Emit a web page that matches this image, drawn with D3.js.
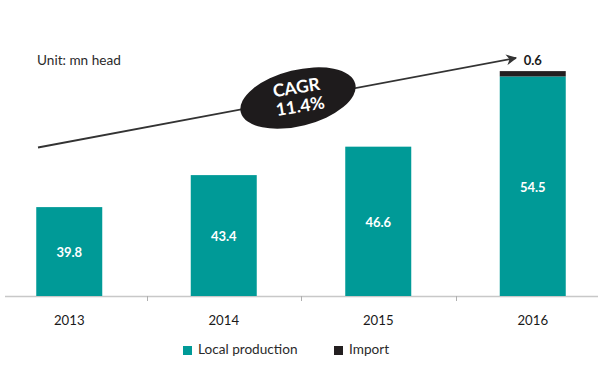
<!DOCTYPE html>
<html>
<head>
<meta charset="utf-8">
<script src="https://cdn.jsdelivr.net/npm/d3@7"></script>
<style>
  body { margin: 0; background: #fff; }
  svg { display: block; }
  text { font-family: Lato, "Open Sans", sans-serif; }
</style>
</head>
<body>
<svg id="chart" width="600" height="365"></svg>
<script>
const years = ["2013", "2014", "2015", "2016"];
const localProduction = [39.8, 43.4, 46.6, 54.5];
const importValues = [0, 0, 0, 0.6];
const seriesNames = ["Local production", "Import"];
const seriesColors = ["#009A97", "#231F20"];
const unitLabel = "Unit: mn head";
const cagrLabel = ["CAGR", "11.4%"];

const svg = d3.select("#chart");
const baseY = 296;

const x = d3.scaleBand().domain(years).range([-8, 610]).padding(0);
const y = d3.scaleLinear().domain([29.8, 63.1]).range([baseY, 0]);
const barW = 66;

// axis line
svg.append("line")
  .attr("x1", 5).attr("x2", 598)
  .attr("y1", baseY + 0.5).attr("y2", baseY + 0.5)
  .attr("stroke", "#c8c8c8").attr("stroke-width", 1.5);

// ticks between categories
years.slice(1).forEach(yr => {
  const tx = Math.round(x(yr)) + 0.5;
  svg.append("line")
    .attr("x1", tx).attr("x2", tx)
    .attr("y1", baseY).attr("y2", baseY + 5)
    .attr("stroke", "#b0b0b0").attr("stroke-width", 1);
});

// year labels
svg.selectAll(".year").data(years).enter().append("text")
  .attr("x", d => x(d) + x.bandwidth() / 2)
  .attr("y", 322)
  .attr("text-anchor", "middle")
  .attr("dominant-baseline", "middle")
  .attr("font-size", 13.2)
  .attr("fill", "#1a1a1a")
  .text(d => d);

// local production bars
svg.selectAll(".local").data(years).enter().append("rect")
  .attr("x", d => x(d) + x.bandwidth() / 2 - barW / 2)
  .attr("width", barW)
  .attr("y", (d, i) => y(localProduction[i]))
  .attr("height", (d, i) => baseY - y(localProduction[i]))
  .attr("fill", seriesColors[0]);

// import bars (stacked)
svg.selectAll(".imp").data(years.filter((d, i) => importValues[i] > 0)).enter().append("rect")
  .attr("x", d => x(d) + x.bandwidth() / 2 - barW / 2)
  .attr("width", barW)
  .attr("y", d => { const i = years.indexOf(d); return y(localProduction[i] + importValues[i]); })
  .attr("height", d => { const i = years.indexOf(d); return y(localProduction[i]) - y(localProduction[i] + importValues[i]); })
  .attr("fill", seriesColors[1]);

// values inside bars
svg.selectAll(".val").data(years).enter().append("text")
  .attr("x", d => x(d) + x.bandwidth() / 2)
  .attr("y", (d, i) => (y(localProduction[i]) + baseY) / 2 + 2)
  .attr("text-anchor", "middle")
  .attr("dominant-baseline", "middle")
  .attr("font-size", 13)
  .attr("font-weight", "bold")
  .attr("fill", "#ffffff")
  .text((d, i) => localProduction[i].toFixed(1));

// import label
years.forEach((d, i) => {
  if (importValues[i] > 0) {
    svg.append("text")
      .attr("x", x(d) + x.bandwidth() / 2)
      .attr("y", y(localProduction[i] + importValues[i]) - 9)
      .attr("text-anchor", "middle")
      .attr("dominant-baseline", "middle")
      .attr("font-size", 13)
      .attr("font-weight", "bold")
      .attr("fill", "#1a1a1a")
      .text(importValues[i].toFixed(1));
  }
});

// unit label
svg.append("text")
  .attr("x", 37).attr("y", 62)
  .attr("dominant-baseline", "middle")
  .attr("font-size", 13.6)
  .attr("fill", "#2a2a2a")
  .text(unitLabel);

// CAGR arrow
const defs = svg.append("defs");
defs.append("marker")
  .attr("id", "arrow")
  .attr("viewBox", "0 0 10 10")
  .attr("refX", 9).attr("refY", 5)
  .attr("markerWidth", 6).attr("markerHeight", 6)
  .attr("markerUnits", "strokeWidth")
  .attr("orient", "auto")
  .append("path")
  .attr("d", "M0,0 L10,5 L0,10 L3,5 Z")
  .attr("fill", "#333");

svg.append("line")
  .attr("x1", 38).attr("y1", 147.5)
  .attr("x2", 516).attr("y2", 58)
  .attr("stroke", "#333").attr("stroke-width", 1.8)
  .attr("marker-end", "url(#arrow)");

const eg = svg.append("g").attr("transform", "translate(298,98)");
eg.append("ellipse")
  .attr("rx", 59).attr("ry", 28)
  .attr("transform", "rotate(-14)")
  .attr("fill", "#1e1b1c");
const tg = eg.append("g").attr("transform", "rotate(-9)");
tg.append("text")
  .attr("x", 0).attr("y", -9)
  .attr("text-anchor", "middle").attr("dominant-baseline", "middle")
  .attr("font-size", 17.5).attr("font-weight", "bold").attr("fill", "#fff")
  .text(cagrLabel[0]);
tg.append("text")
  .attr("x", 1).attr("y", 10)
  .attr("text-anchor", "middle").attr("dominant-baseline", "middle")
  .attr("font-size", 17.5).attr("font-weight", "bold").attr("fill", "#fff")
  .text(cagrLabel[1]);

// legend
const legendItems = [
  { name: seriesNames[0], color: seriesColors[0], x: 183 },
  { name: seriesNames[1], color: seriesColors[1], x: 334 }
];
legendItems.forEach(it => {
  svg.append("rect")
    .attr("x", it.x).attr("y", 346)
    .attr("width", 9).attr("height", 9)
    .attr("fill", it.color);
  svg.append("text")
    .attr("x", it.x + 15).attr("y", 351)
    .attr("dominant-baseline", "middle")
    .attr("font-size", 13.6)
    .attr("fill", "#2a2a2a")
    .text(it.name);
});
</script>
</body>
</html>
